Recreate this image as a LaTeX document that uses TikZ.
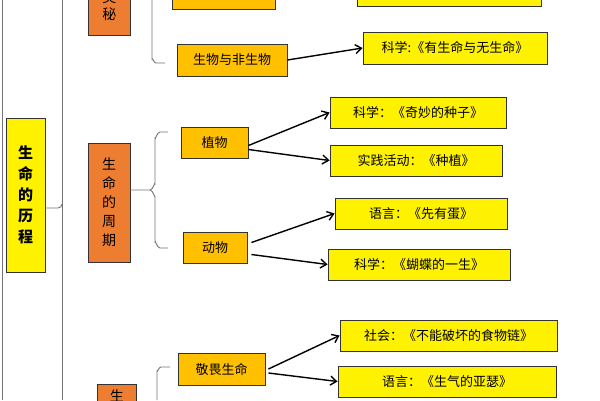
\documentclass[tikz,border=0pt]{standalone}
\usepackage{fontspec}
\setmainfont{Noto Sans CJK SC}
\usetikzlibrary{arrows.meta}
\begin{document}
\begin{tikzpicture}[x=1pt,y=-1pt,
 bx/.style={draw=black!80,line width=0.9pt,inner sep=0pt,font=\fontsize{13}{15}\selectfont,text=black},
 yl/.style={bx,fill=yellow},
 gd/.style={bx,fill={rgb,255:red,255;green,192;blue,0}},
 og/.style={bx,fill={rgb,255:red,237;green,125;blue,49},align=center},
 br/.style={draw=black!55,line width=0.9pt},
 ar/.style={draw=black,line width=1.4pt,-{Straight Barb[length=6pt,width=9pt]}}]
\useasboundingbox (0,0) rectangle (600,400);
\draw[br] (2,0) -- (2,400);
\draw[br] (62,0) -- (62,400);
% main
\node[yl,minimum width=39pt,minimum height=154pt,align=center,font=\fontsize{15}{21}\selectfont\bfseries] (main) at (25.5,195) {生\\命\\的\\历\\程};
\draw[br] (main.east|-0,208) -- (58,208) to[out=0,in=-90] (62,204);
% top group
\node[og,minimum width=42pt,minimum height=60pt,anchor=south west,font=\fontsize{14}{17}\selectfont] (o1) at (88,36) {奥\\秘};
\node[gd,minimum width=103pt,minimum height=30pt,anchor=south west] (g0) at (172,10) {};
\node[yl,minimum width=184pt,minimum height=30pt,anchor=south west] (y0) at (357,7) {};
\draw[br] (152,0) -- (152,59) to[out=90,in=180] (156,63) -- (165,63);
\node[gd,minimum width=110pt,minimum height=32pt] (g1) at (232,60) {生物与非生物};
\node[yl,minimum width=184pt,minimum height=32pt] (y1) at (455,48) {科学:《有生命与无生命》};
\draw[ar] (g1.east) -- (y1.west);
% life cycle
\node[og,minimum width=42pt,minimum height=119pt,font=\fontsize{14}{19}\selectfont] (o2) at (109,202.5) {生\\命\\的\\周\\期};
\draw[br] (o2.east|-0,190) -- (150,190) to[out=0,in=90] (155,184) -- (155,138) to[out=-90,in=180] (160,132) -- (168,132);
\draw[br] (155,196) -- (155,242) to[out=90,in=180] (160,248) -- (168,248);
\draw[br] (150,190) to[out=0,in=-90] (155,196);
\node[gd,minimum width=67pt,minimum height=31pt] (g2) at (214.5,142.5) {植物};
\node[yl,minimum width=176pt,minimum height=31pt] (y2) at (418,112.5) {科学：《奇妙的种子》};
\node[yl,minimum width=172pt,minimum height=31pt] (y3) at (416,160.5) {实践活动：《种植》};
\draw[ar] ([yshift=-3pt]g2.east) -- (y2.west);
\draw[ar] ([yshift=-7pt]g2.east) -- (y3.west);
\node[gd,minimum width=64pt,minimum height=31pt] (g3) at (215,247.5) {动物};
\node[yl,minimum width=172pt,minimum height=31pt] (y4) at (421,213.5) {语言：《先有蛋》};
\node[yl,minimum width=182pt,minimum height=31pt] (y5) at (419,264.5) {科学：《蝴蝶的一生》};
\draw[ar] ([yshift=5pt,xshift=4pt]g3.east) -- (y4.west);
\draw[ar] ([yshift=-7pt,xshift=4pt]g3.east) -- (y5.west);
% bottom
\node[og,minimum width=39pt,minimum height=40pt,anchor=north west,font=\fontsize{14}{17}\selectfont] (o3) at (97,384) {生\\命};
\draw[br] (157,400) -- (157,371) to[out=-90,in=180] (161,367) -- (170,367);
\node[gd,minimum width=87pt,minimum height=32pt] (g4) at (221.5,369) {敬畏生命};
\node[yl,minimum width=217pt,minimum height=31pt] (y6) at (448.5,335.5) {社会：《不能破坏的食物链》};
\node[yl,minimum width=218pt,minimum height=31pt] (y7) at (447,381.5) {语言：《生气的亚瑟》};
\draw[ar] ([xshift=3pt]g4.east) -- (y6.west);
\draw[ar] ([xshift=3pt,yshift=-4pt]g4.east) -- (y7.west);
\end{tikzpicture}
\end{document}
